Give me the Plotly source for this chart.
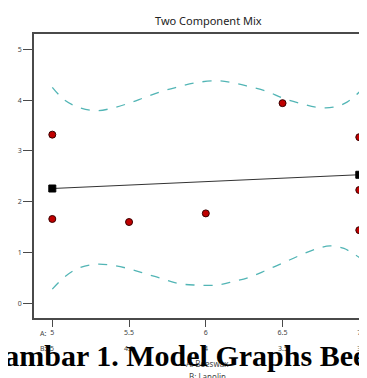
import plotly.graph_objects as go

# ---- data ----
design_a = [5.0, 5.0, 5.5, 6.0, 6.5, 7.0, 7.0, 7.0]
design_y = [3.32, 1.66, 1.60, 1.77, 3.94, 3.27, 2.23, 1.44]

fit_a = [5.0, 6.0, 7.0]
fit_y = [2.26, 2.39, 2.53]

end_a = [5.0, 7.0]
end_y = [2.26, 2.53]

upper_a = [5.0, 5.08, 5.17, 5.28, 5.39, 5.5, 5.6, 5.71, 5.82, 5.93, 6.07,
           6.18, 6.29, 6.4, 6.5, 6.61, 6.72, 6.83, 6.92, 7.0]
upper_y = [4.25, 4.0, 3.86, 3.79, 3.84, 3.94, 4.05, 4.17, 4.26, 4.34, 4.38,
           4.34, 4.26, 4.17, 4.04, 3.94, 3.86, 3.86, 3.96, 4.16]

lower_a = [5.0, 5.08, 5.17, 5.28, 5.39, 5.5, 5.6, 5.71, 5.82, 5.93, 6.07,
           6.18, 6.29, 6.4, 6.5, 6.61, 6.72, 6.81, 6.9, 7.0]
lower_y = [0.28, 0.52, 0.69, 0.77, 0.75, 0.68, 0.59, 0.49, 0.39, 0.36, 0.36,
           0.43, 0.52, 0.66, 0.79, 0.94, 1.07, 1.13, 1.08, 0.90]

a_ticks = [5, 5.5, 6, 6.5, 7]
a_ticklabels = ["5", "5.5", "6", "6.5", "7"]
b_ticklabels = ["5", "4.5", "4", "3.5", "3"]
y_ticks = [0, 1, 2, 3, 4, 5]

TEAL = "#52b5b5"
GREY_TXT = "#444444"
AX = "#4a4a4a"
SANS = "Noto Sans, DejaVu Sans, sans-serif"

fig = go.Figure()

fig.add_trace(go.Scatter(x=upper_a, y=upper_y, mode="lines", line_shape="spline",
                         line=dict(color=TEAL, width=1.3, dash="dash"),
                         hoverinfo="skip", showlegend=False))
fig.add_trace(go.Scatter(x=lower_a, y=lower_y, mode="lines", line_shape="spline",
                         line=dict(color=TEAL, width=1.3, dash="dash"),
                         hoverinfo="skip", showlegend=False))
fig.add_trace(go.Scatter(x=fit_a, y=fit_y, mode="lines",
                         line=dict(color="#333333", width=1.1),
                         showlegend=False))
fig.add_trace(go.Scatter(x=end_a, y=end_y, mode="markers",
                         marker=dict(symbol="square", size=7, color="black",
                                     line=dict(color="black", width=1)),
                         showlegend=False, cliponaxis=False))
fig.add_trace(go.Scatter(x=design_a, y=design_y, mode="markers",
                         marker=dict(symbol="circle", size=7, color="#c00000",
                                     line=dict(color="#3a0000", width=1)),
                         showlegend=False, cliponaxis=False))

# page body has an 8px margin: figure pixel = screen pixel - 8
OFF = 8
W, H = 375, 370
L, R, T, B = 34 - OFF, 0, 34 - OFF, 60
pw = W - L - R
ph = H - T - B


def px_x(sx):
    return (sx - OFF - L) / pw


def px_y(sy):
    return (H - B - (sy - OFF)) / ph


annotations = []
for a, lab in zip(a_ticks, b_ticklabels):
    annotations.append(dict(x=a, y=px_y(348), xref="x", yref="paper", text=lab,
                            showarrow=False, xanchor="center", yanchor="middle",
                            font=dict(size=7, color=GREY_TXT, family=SANS)))
annotations.append(dict(x=px_x(43), y=px_y(333), xref="paper", yref="paper", text="A:",
                        showarrow=False, xanchor="center", yanchor="middle",
                        font=dict(size=7, color=GREY_TXT, family=SANS)))
annotations.append(dict(x=px_x(43), y=px_y(348), xref="paper", yref="paper", text="B:",
                        showarrow=False, xanchor="center", yanchor="middle",
                        font=dict(size=7, color=GREY_TXT, family=SANS)))
annotations.append(dict(x=px_x(207), y=px_y(363), xref="paper", yref="paper",
                        text="A: Beeswax", showarrow=False, xanchor="center",
                        yanchor="middle", font=dict(size=8, color=GREY_TXT, family=SANS)))
annotations.append(dict(x=px_x(207), y=px_y(376), xref="paper", yref="paper",
                        text="B: Lanolin", showarrow=False, xanchor="center",
                        yanchor="middle", font=dict(size=8, color=GREY_TXT, family=SANS)))
annotations.append(dict(x=px_x(208), y=px_y(20), xref="paper", yref="paper",
                        text="Two Component Mix", showarrow=False, xanchor="center",
                        yanchor="middle", font=dict(size=11, color="#222222", family=SANS)))
annotations.append(dict(x=px_x(-21), y=px_y(355), xref="paper", yref="paper",
                        text="<b>Gambar 1. Model Graphs Beeswax</b>", showarrow=False,
                        xanchor="left", yanchor="middle",
                        font=dict(size=30, color="black",
                                  family="Liberation Serif, Times New Roman, serif")))

x_left = 5 - (52.3 - 34) / 153.5
x_right = 5 + (W + OFF - 52.3) / 153.5

fig.update_layout(
    width=W, height=H,
    margin=dict(l=L, r=R, t=T, b=B, pad=0),
    paper_bgcolor="white", plot_bgcolor="white",
    showlegend=False,
    annotations=annotations,
    xaxis=dict(range=[x_left, x_right], tickvals=a_ticks, ticktext=a_ticklabels,
               showgrid=False, zeroline=False, showline=True, mirror=True,
               linecolor=AX, linewidth=1.5, ticks="outside", ticklen=7,
               tickwidth=1, tickcolor=AX,
               tickfont=dict(size=7, color=GREY_TXT, family=SANS)),
    yaxis=dict(range=[-0.289, 5.301], tickvals=y_ticks,
               showgrid=False, zeroline=False, showline=True, mirror=False,
               linecolor=AX, linewidth=1.5, ticks="outside", ticklen=9,
               tickwidth=1, tickcolor=AX,
               tickfont=dict(size=7, color=GREY_TXT, family=SANS)),
)

fig.write_html("out.html")
